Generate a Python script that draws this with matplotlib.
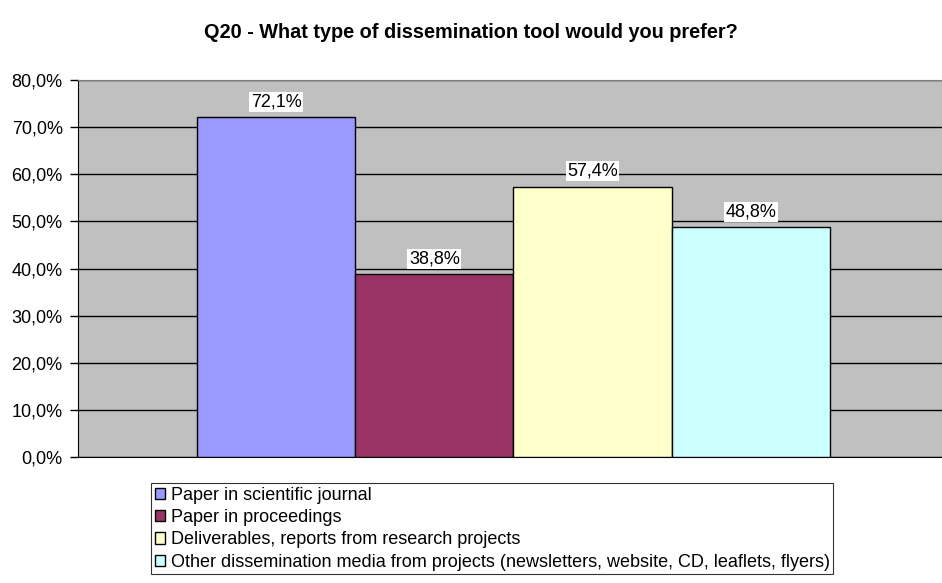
import numpy as np
import matplotlib.pyplot as plt
from matplotlib.ticker import FuncFormatter

plt.rcParams['font.family'] = ['Liberation Sans', 'DejaVu Sans']

# survey answers, share of respondents
labels = ['Paper in scientific journal',
          'Paper in proceedings',
          'Deliverables, reports from research projects',
          'Other dissemination media from projects (newsletters, website, CD, leaflets, flyers)']
values = [72.1, 38.8, 57.4, 48.8]
colors = ['#9999FF', '#993366', '#FFFFCC', '#CCFFFF']
yticks = [0, 10, 20, 30, 40, 50, 60, 70, 80]

fig = plt.figure(figsize=(9.42, 5.83), dpi=100)
ax = fig.add_axes([78 / 942, 126 / 583, 864 / 942, 377 / 583])
ax.set_facecolor('#C0C0C0')

# one category, four bars side by side
w = 0.1832
n = len(values)
offsets = (np.arange(n) - (n - 1) / 2) * w + 0.004
for off, v, c, lab in zip(offsets, values, colors, labels):
    ax.bar(off, v, width=w, color=c, edgecolor='black', linewidth=1, label=lab, zorder=3)
    ax.annotate(f'{v:.1f}%'.replace('.', ','), (off, v), xytext=(0, 5),
                textcoords='offset points', ha='center', va='bottom', fontsize=13,
                bbox=dict(facecolor='white', edgecolor='none', pad=1), zorder=4)

ax.set_xlim(-0.5, 0.5)
ax.set_ylim(0, 80)
ax.set_yticks(yticks)
ax.yaxis.set_major_formatter(FuncFormatter(lambda y, p: f'{y:.1f}%'.replace('.', ',')))
ax.tick_params(axis='y', direction='out', length=6, labelsize=13, width=1, pad=5)
ax.set_xticks([])
ax.grid(axis='y', color='black', linewidth=1, zorder=1)

for s in ['top', 'right']:
    ax.spines[s].set_color('#808080')
ax.spines['bottom'].set_color('black')
ax.spines['left'].set_color('black')

fig.text(0.5, 1 - 32 / 583, 'Q20 - What type of dissemination tool would you prefer?',
         ha='center', va='center', fontsize=14.3, fontweight='bold')

leg = fig.legend(loc='upper left', bbox_to_anchor=(151 / 942, 1 - 483 / 583),
                 fontsize=13, frameon=True, fancybox=False, edgecolor='black',
                 handlelength=0.6, handleheight=0.6, handletextpad=0.3,
                 labelspacing=0.3, borderpad=0.2, borderaxespad=0)
leg.get_frame().set_linewidth(0.8)

fig.savefig('out.png', dpi=100)
